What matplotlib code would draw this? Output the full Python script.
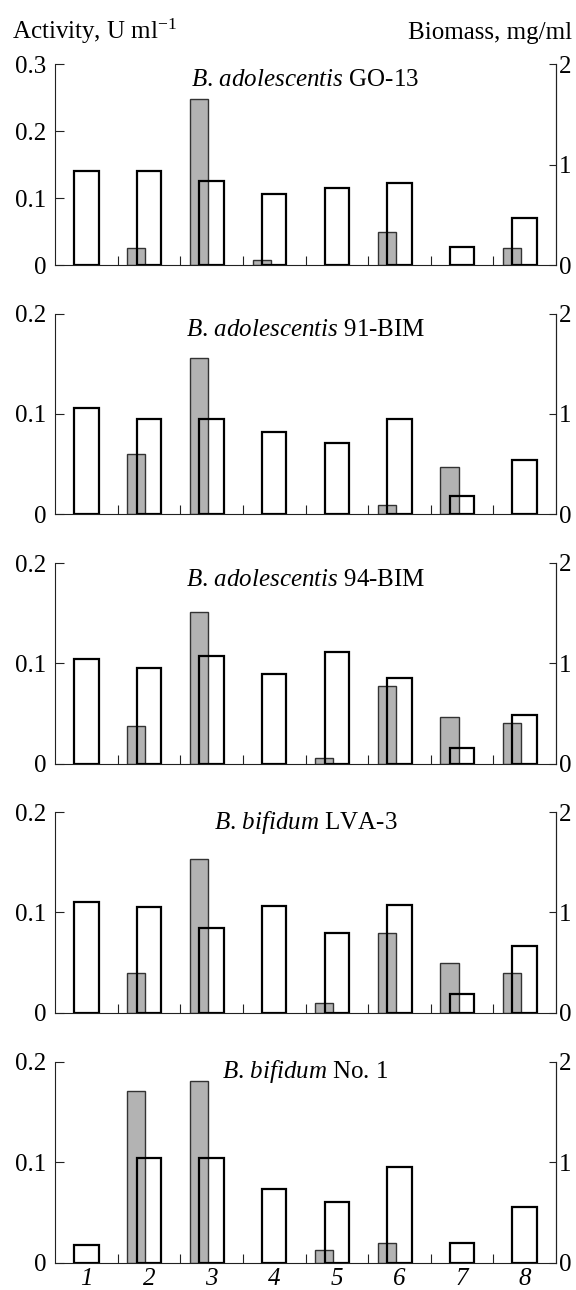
import numpy as np
import matplotlib
matplotlib.use('Agg')
import matplotlib.pyplot as plt

plt.rcParams['font.family'] = ['Liberation Serif', 'DejaVu Serif']
plt.rcParams['mathtext.fontset'] = 'custom'
plt.rcParams['mathtext.rm'] = 'Liberation Serif'
plt.rcParams['mathtext.it'] = 'Liberation Serif:italic'

# strains shown in the five panels
species = ['adolescentis', 'adolescentis', 'adolescentis', 'bifidum', 'bifidum']
strains = ['GO-13', '91-BIM', '94-BIM', 'LVA-3', 'No. 1']
fractions = ['1', '2', '3', '4', '5', '6', '7', '8']

# activity, U/ml (grey bars, left axis)
activity_go13 = [0, 0.026, 0.248, 0.008, 0, 0.049, 0, 0.025]
activity_91bim = [0, 0.060, 0.156, 0, 0, 0.009, 0.047, 0]
activity_94bim = [0, 0.038, 0.151, 0, 0.006, 0.077, 0.047, 0.041]
activity_lva3 = [0, 0.040, 0.153, 0, 0.010, 0.079, 0.050, 0.040]
activity_no1 = [0, 0.171, 0.181, 0, 0.013, 0.020, 0, 0]

# biomass, mg/ml (open bars, right axis)
biomass_go13 = [0.94, 0.94, 0.84, 0.71, 0.77, 0.82, 0.18, 0.47]
biomass_91bim = [1.06, 0.95, 0.95, 0.82, 0.71, 0.95, 0.18, 0.54]
biomass_94bim = [1.04, 0.95, 1.07, 0.89, 1.11, 0.85, 0.16, 0.49]
biomass_lva3 = [1.10, 1.05, 0.84, 1.06, 0.79, 1.07, 0.19, 0.66]
biomass_no1 = [0.18, 1.04, 1.04, 0.73, 0.60, 0.95, 0.20, 0.56]

activity = [activity_go13, activity_91bim, activity_94bim, activity_lva3, activity_no1]
biomass = [biomass_go13, biomass_91bim, biomass_94bim, biomass_lva3, biomass_no1]

activity_ticks = [[0, 0.1, 0.2, 0.3], [0, 0.1, 0.2], [0, 0.1, 0.2], [0, 0.1, 0.2], [0, 0.1, 0.2]]
activity_ticklabels = [['0', '0.1', '0.2', '0.3'], ['0', '0.1', '0.2'], ['0', '0.1', '0.2'],
                       ['0', '0.1', '0.2'], ['0', '0.1', '0.2']]
biomass_ticks = [0, 1, 2]
biomass_ticklabels = ['0', '1', '2']

#######################################

W, H = 576., 1290.
bottoms_px = [265.0, 514.3, 763.7, 1012.7, 1262.7]
panel_h = 200.7
title_y = [0.922, 0.917, 0.913, 0.947, 0.953]
fs = 18
spine_col = '#222222'

fig = plt.figure(figsize=(5.76, 12.9), dpi=100)
x = np.arange(len(fractions))

for k in range(len(strains)):
    ax = fig.add_axes([55 / W, 1 - bottoms_px[k] / H, 501 / W, panel_h / H])
    ax2 = ax.twinx()

    act = np.array(activity[k])
    mask = act > 0
    ax.bar(x[mask] - 0.2, act[mask], width=0.29, color='#b3b3b3',
           edgecolor='#333333', linewidth=1.0)
    ax2.bar(x, biomass[k], width=0.39, fill=False, edgecolor='black', linewidth=1.6)

    ax.set_xlim(-0.5, len(fractions) - 0.5)
    ax.set_ylim(0, activity_ticks[k][-1])
    ax2.set_ylim(0, biomass_ticks[-1])

    ax.set_yticks(activity_ticks[k])
    ax.set_yticklabels(activity_ticklabels[k])
    ax2.set_yticks(biomass_ticks)
    ax2.set_yticklabels(biomass_ticklabels)

    ax.set_xticks(x)
    ax.set_xticks(x[:-1] + 0.5, minor=True)
    if k == len(strains) - 1:
        ax.set_xticklabels(fractions, fontstyle='italic')
    else:
        ax.set_xticklabels([])

    ax.tick_params(axis='y', direction='in', length=6.5, width=0.8, pad=6,
                   labelsize=fs, color=spine_col)
    ax2.tick_params(axis='y', direction='in', length=5, width=0.8, pad=2.4,
                    labelsize=fs, color=spine_col)
    ax.tick_params(axis='x', which='major', length=0, pad=3.5, labelsize=fs)
    ax.tick_params(axis='x', which='minor', direction='in', length=6.7, width=0.8,
                   color=spine_col)

    for a in (ax, ax2):
        a.spines['top'].set_visible(False)
        for s in a.spines.values():
            s.set_linewidth(0.8)
            s.set_color(spine_col)
    ax2.spines['left'].set_visible(False)
    ax2.spines['bottom'].set_visible(False)

    ax2.text(0.5, title_y[k], r'$\mathit{B}$. $\mathit{%s}$ %s' % (species[k], strains[k]),
             transform=ax.transAxes, ha='center', va='center', fontsize=fs)

fig.text(12 / W, 1 - 39.5 / H, r'Activity, U ml$^{-1}$', ha='left', va='baseline', fontsize=fs)
fig.text(572 / W, 1 - 39.5 / H, 'Biomass, mg/ml', ha='right', va='baseline', fontsize=fs)

fig.savefig('out.png', dpi=100)
plt.close()
